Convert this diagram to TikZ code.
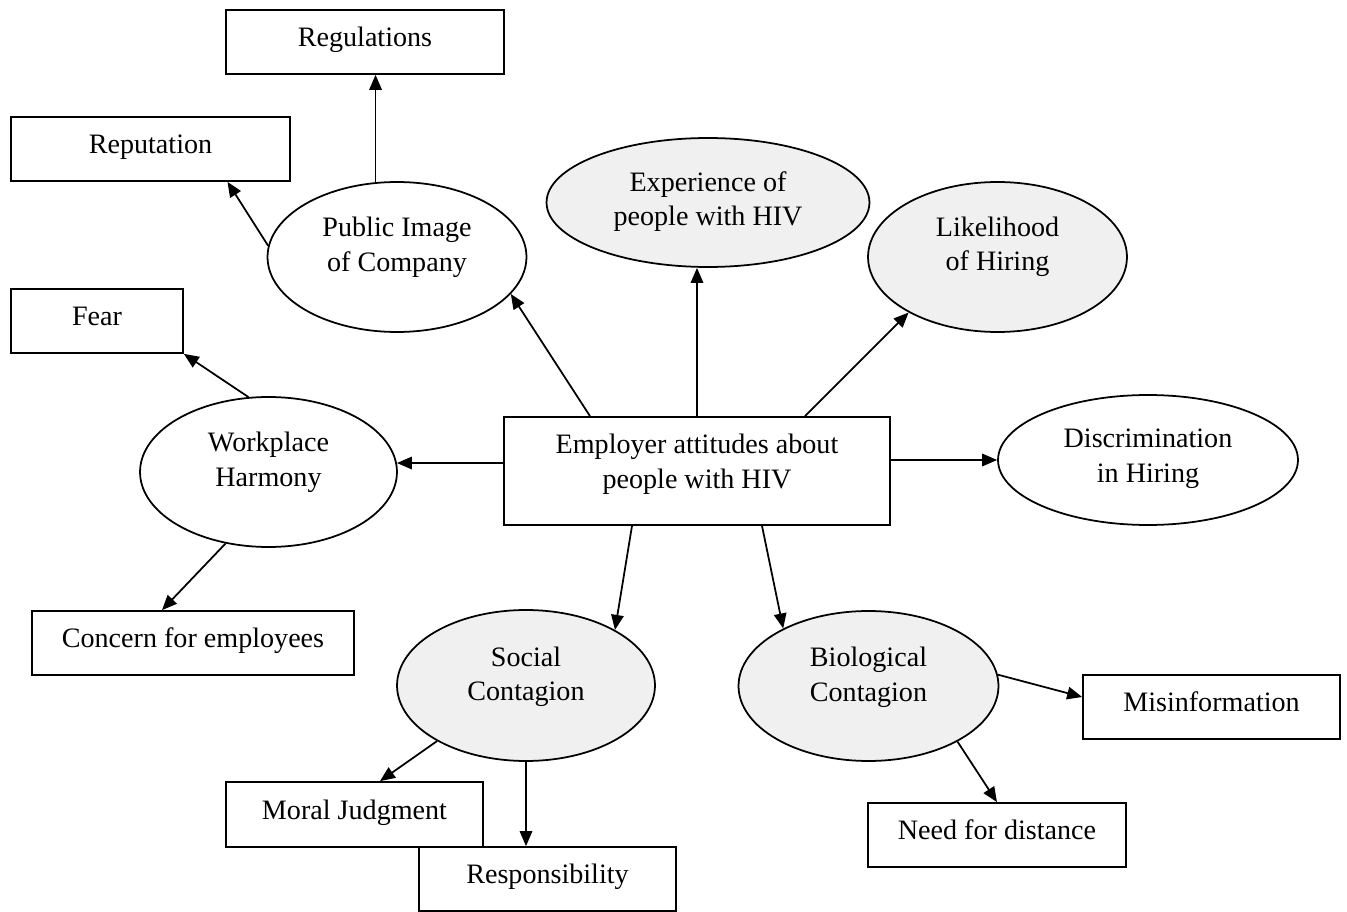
\documentclass[tikz,border=0pt]{standalone}
\usepackage{fontspec}
\setmainfont{Liberation Serif}
\usetikzlibrary{arrows.meta,shapes.geometric,calc}
\definecolor{shade}{HTML}{F0F0F0}
\newcommand\twolines[2]{\begin{tabular}[t]{@{}c@{}}#1\\#2\end{tabular}}
\begin{document}
\begin{tikzpicture}[x=0.02cm,y=-0.02cm,
  every node/.style={font=\fontsize{16pt}{19.7pt}\selectfont},
  box/.style={draw, rectangle, line width=1pt, fill=white, inner sep=0pt,
    text height=0.42cm, text depth=0.24cm},
  ell/.style={draw, ellipse, line width=1pt, inner sep=0pt},
  shaded/.style={fill=shade},
  arr/.style={-{Triangle[length=3mm,width=2.5mm]}, line width=1pt}]
\useasboundingbox (0,0) rectangle (1347,912);

% central box
\node[box, minimum width=7.72cm, minimum height=2.16cm, text height=0.2cm, text depth=0.9cm]
  (main) at (697,471) {\twolines{Employer attitudes about}{people with HIV}};

% ellipses
\node[ell, minimum width=5.18cm, minimum height=3.0cm, text height=0.08cm, text depth=0.9cm]
  (pub) at (397,257) {\twolines{Public Image}{of Company}};
\node[ell, shaded, minimum width=6.46cm, minimum height=2.58cm, text height=0.2cm, text depth=0.66cm]
  (exp) at (708,202.5) {\twolines{Experience of}{people with HIV}};
\node[ell, shaded, minimum width=5.18cm, minimum height=3.0cm, text height=0.08cm, text depth=0.92cm]
  (lik) at (997.5,257) {\twolines{Likelihood}{of Hiring}};
\node[ell, minimum width=5.14cm, minimum height=3.0cm, text height=0.08cm, text depth=0.9cm]
  (wh) at (268.5,472) {\twolines{Workplace}{Harmony}};
\node[ell, minimum width=6.0cm, minimum height=2.6cm, text height=0.16cm, text depth=0.66cm]
  (disc) at (1148,460) {\twolines{Discrimination}{in Hiring}};
\node[ell, shaded, minimum width=5.16cm, minimum height=3.02cm, text height=0.1cm, text depth=0.88cm]
  (soc) at (526,685.5) {\twolines{Social}{Contagion}};
\node[ell, shaded, minimum width=5.2cm, minimum height=3.0cm, text height=0.1cm, text depth=0.88cm]
  (bio) at (868.5,686) {\twolines{Biological}{Contagion}};

% boxes
\node[box, minimum width=5.56cm, minimum height=1.28cm] (reg) at (365,42) {Regulations};
\node[box, minimum width=5.58cm, minimum height=1.28cm] (rep) at (150.5,149) {Reputation};
\node[box, minimum width=3.44cm, minimum height=1.28cm] (fear) at (97,321) {Fear};
\node[box, minimum width=6.44cm, minimum height=1.28cm] (conc) at (193,643) {Concern for employees};
\node[box, minimum width=5.14cm, minimum height=1.3cm] (mor) at (354.5,814.5) {Moral Judgment};
\node[box, minimum width=5.14cm, minimum height=1.28cm] (resp) at (547.5,879) {Responsibility};
\node[box, minimum width=5.16cm, minimum height=1.28cm] (need) at (997,835) {Need for distance};
\node[box, minimum width=5.14cm, minimum height=1.28cm] (mis) at (1211.5,707) {Misinformation};

% connectors
\draw[arr] (pub.106) -- (pub.106 |- reg.south);
\draw[arr] (pub.175) -- ($(rep.south)+(77,0)$);
\draw[arr] ($(main.north)+(-107,0)$) -- (pub.-18);
\draw[arr] (main.north) -- (main.north |- exp.south);
\draw[arr] ($(main.north)+(108,0)$) -- (lik.212);
\draw[arr] (main.east |- disc.west) -- (disc.west);
\draw[arr] (main.west |- wh.4.5) -- (wh.4.5);
\draw[arr] (wh.105) -- (fear.south east);
\draw[arr] (wh.239) -- ($(conc.north)+(-31,0)$);
\draw[arr] ($(main.south)+(-65,0)$) -- (soc.32.5);
\draw[arr] ($(main.south)+(65,0)$) -- (bio.146);
\draw[arr] (soc.212) -- ($(mor.north)+(25.5,0)$);
\draw[arr] (soc.south) -- (soc.south |- resp.north);
\draw[arr] (bio.5) -- ($(mis.west)+(0,-10)$);
\draw[arr] (bio.-32) -- (need.north);
\end{tikzpicture}
\end{document}
